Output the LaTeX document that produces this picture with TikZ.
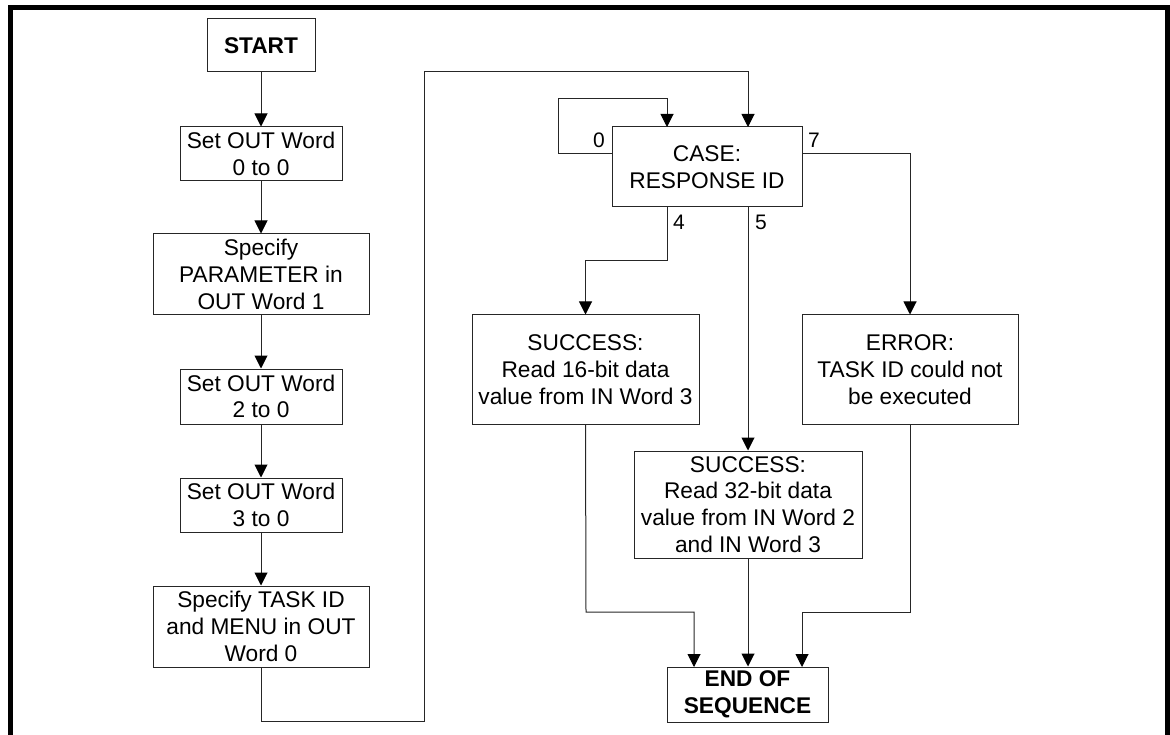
\documentclass[tikz,border=0pt]{standalone}
\usepackage{fontspec}
\setmainfont{Liberation Sans}
\usetikzlibrary{arrows.meta}
\begin{document}
\begin{tikzpicture}[x=1pt,y=-1pt,
  box/.style={draw=black!85,line width=1pt,inner sep=0pt,align=center,
    font=\fontsize{22.7}{26.7}\selectfont},
  lbl/.style={inner sep=0pt,font=\fontsize{21}{24}\selectfont},
  conn/.style={draw=black!85,line width=1pt},
  arr/.style={conn,-{Triangle[length=13pt,width=13pt,color=black]}}]
\useasboundingbox (0,0) rectangle (1170,735);
% frame
\draw[line width=5pt,miter limit=10] (10.5,735) -- (10.5,7.5) -- (1167.5,7.5) -- (1167.5,735);
% left column
\node[box,minimum width=108pt,minimum height=53pt,font=\fontsize{22.7}{26.7}\selectfont\bfseries] (start) at (261,45.5) {START};
\node[box,minimum width=162pt,minimum height=54pt] (b1) at (261,154) {Set OUT Word\\0 to 0};
\node[box,minimum width=216pt,minimum height=81pt] (b2) at (261,274.5) {Specify\\PARAMETER in\\OUT Word 1};
\node[box,minimum width=162pt,minimum height=55pt] (b3) at (261,396.5) {Set OUT Word\\2 to 0};
\node[box,minimum width=162pt,minimum height=54pt] (b4) at (261,505) {Set OUT Word\\3 to 0};
\node[box,minimum width=216pt,minimum height=81pt] (b5) at (261,626.5) {Specify TASK ID\\and MENU in OUT\\Word 0};
% right part
\node[box,minimum width=190pt,minimum height=80pt] (case) at (707,167) {CASE:\\RESPONSE ID};
\node[box,minimum width=227pt,minimum height=109pt] (s16) at (585.5,369.5) {SUCCESS:\\Read 16-bit data\\value from IN Word 3};
\node[box,minimum width=216pt,minimum height=109pt] (err) at (910,369.5) {ERROR:\\TASK ID could not\\be executed};
\node[box,minimum width=228pt,minimum height=107pt] (s32) at (748,504.5) {SUCCESS:\\Read 32-bit data\\value from IN Word 2\\and IN Word 3};
\node[box,minimum width=161pt,minimum height=55pt,font=\fontsize{22.7}{26.7}\selectfont\bfseries] (end) at (747.5,694.5) {END OF\\SEQUENCE};
% labels
\node[lbl] (l0) at (599,140) {0};
\node[lbl] (l7) at (814,140) {7};
\node[lbl] (l4) at (679,222) {4};
\node[lbl] (l5) at (761,222) {5};
% named coordinates
\coordinate (j1) at (424,721);
\coordinate (j2) at (424,72);
\coordinate (cin5) at (748,127);
\coordinate (cin0) at (667,127);
\coordinate (cout0) at (612,154);
\coordinate (loopA) at (558,154);
\coordinate (loopB) at (558,99);
\coordinate (cout7) at (802,154);
\coordinate (cout4) at (667,207);
\coordinate (k4) at (667,261);
\coordinate (cout5) at (748,207);
\coordinate (m16) at (586,612);
\coordinate (e16) at (694,667);
\coordinate (merr) at (910,612);
\coordinate (eerr) at (802,667);
% connectors left
\draw[arr] (start) -- (b1);
\draw[arr] (b1) -- (b2);
\draw[arr] (b2) -- (b3);
\draw[arr] (b3) -- (b4);
\draw[arr] (b4) -- (b5);
\draw[arr] (b5.south) |- (j1) -- (j2) -| (cin5);
% case connectors
\draw[arr] (cout0) -- (loopA) -- (loopB) -| (cin0);
\draw[arr] (cout7) -| (err.north);
\draw[arr] (cout4) -- (k4) -| (s16.north);
\draw[arr] (cout5) -- (s32.north);
% to end
\draw[arr] (s16.south) -- (m16) -| (e16);
\draw[arr] (s32.south) -- (s32.south |- end.north);
\draw[arr] (err.south) -- (merr) -| (eerr);
\end{tikzpicture}
\end{document}
